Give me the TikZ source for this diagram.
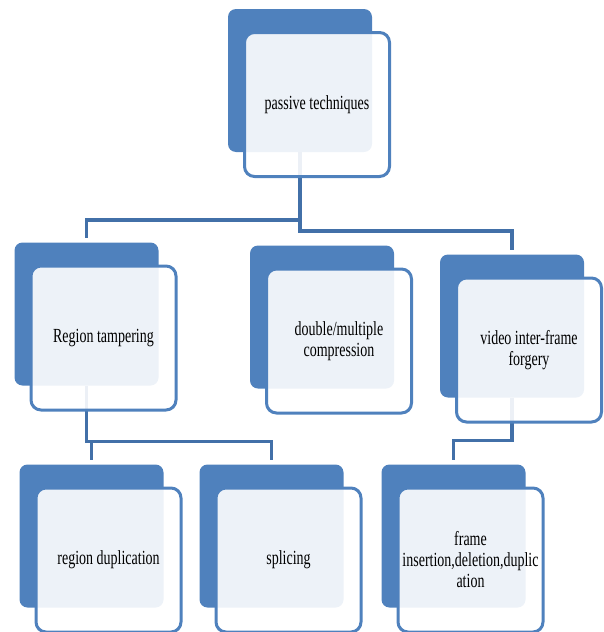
\documentclass[tikz,border=0pt]{standalone}
\usepackage{fontspec}
\newfontfamily\boxfont[FakeStretch=0.7]{Liberation Serif}
\usepackage{xcolor}
\usepackage{tikz}
\usetikzlibrary{positioning, calc}

\definecolor{backblue}{RGB}{79,129,189}
\definecolor{linkblue}{RGB}{66,112,168}

\begin{document}
\begin{tikzpicture}[
    x=1pt, y=-1pt,
    backbox/.style={rectangle, fill=backblue, rounded corners=8pt,
                    minimum width=144pt, minimum height=143pt, inner sep=0pt},
    frontbox/.style={rectangle, draw=backblue, line width=3pt, fill=white,
                     fill opacity=0.9, text opacity=1, rounded corners=10pt,
                     minimum width=145pt, minimum height=144pt, align=center,
                     inner sep=2pt, xshift=17pt, yshift=-24pt,
                     font=\boxfont\fontsize{20}{21}\selectfont},
    link/.style={draw=linkblue, line width=3.5pt, shorten >=4pt},
]
    \useasboundingbox (0,0) rectangle (604,632);

    % Back boxes
    \node[backbox] (pt-b) at (300,80.5) {};
    \node[backbox] (rt-b) at (86.5,314) {};
    \node[backbox] (dm-b) at (322,317) {};
    \node[backbox] (vf-b) at (512,326) {};
    \node[backbox] (rd-b) at (91.5,536) {};
    \node[backbox] (sp-b) at (271.5,536) {};
    \node[backbox] (fr-b) at (453.5,536) {};

    % Links: passive techniques -> first level
    \draw[link] (pt-b.south) -- ++(0,68) -| (rt-b.north);
    \draw[link] (pt-b.south) -- ++(0,79) -| (vf-b.north);

    % Links: region tampering -> second level
    \foreach \child in {rd-b, sp-b} {
        \draw[link] (rt-b.south) -- ++(0,56) -| (\child.north);
    }

    % Link: video inter-frame forgery -> frame
    \draw[link] (vf-b.south) -- ++(0,43) -| (fr-b.north);

    % Front boxes
    \node[frontbox] (pt) at (pt-b) {passive techniques};
    \node[frontbox] (rt) at (rt-b) {Region tampering};
    \node[frontbox] (dm) at (dm-b) {double/multiple\\compression};
    \node[frontbox] (vf) at (vf-b) {video inter-frame\\forgery};
    \node[frontbox] (rd) at (rd-b) {region duplication};
    \node[frontbox] (sp) at (sp-b) {splicing};
    \node[frontbox] (fr) at (fr-b) {frame\\insertion,deletion,duplic\\ation};
\end{tikzpicture}
\end{document}
